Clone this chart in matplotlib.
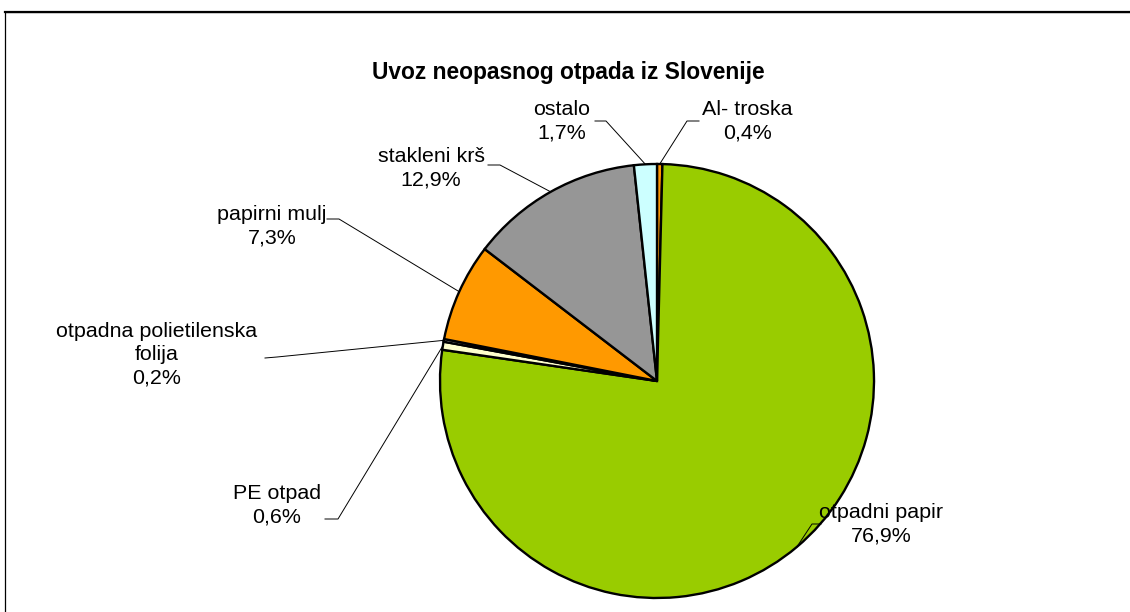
import numpy as np
import matplotlib
matplotlib.use("Agg")
import matplotlib.pyplot as plt
from matplotlib.patches import Rectangle

plt.rcParams['font.family'] = ['Liberation Sans', 'DejaVu Sans']

title = "Uvoz neopasnog otpada iz Slovenije"
categories = ["Al- troska", "otpadni papir", "PE otpad", "otpadna polietilenska\nfolija",
              "papirni mulj", "stakleni krš", "ostalo"]
values = [0.4, 76.9, 0.6, 0.2, 7.3, 12.9, 1.7]
value_labels = ["0,4%", "76,9%", "0,6%", "0,2%", "7,3%", "12,9%", "1,7%"]
colors = ["#FF9900", "#99CC00", "#FFFFCC", "#FFFFFF", "#FF9900", "#969696", "#CCFFFF"]

W, H = 1130, 612
fig = plt.figure(figsize=(W / 100, H / 100), dpi=100)
ax = fig.add_axes([0, 0, 1, 1])

def Y(y):
    return H - y

wedges, _ = ax.pie(values, colors=colors, startangle=90, counterclock=False,
                   center=(657, Y(381)), radius=217,
                   wedgeprops=dict(edgecolor='black', linewidth=1.7), frame=True)
ax.set_xlim(0, W)
ax.set_ylim(0, H)
ax.set_aspect('equal')
ax.axis('off')

# frame
ax.add_patch(Rectangle((4.5, Y(620)), 1140, 620 - 11.5, fill=False, ec='black', lw=0.9, zorder=0))
ax.plot([4.5, W + 5], [Y(11.5), Y(11.5)], color='black', lw=1.6, zorder=1)

ax.text(568, Y(73), title, ha='center', va='center', fontsize=16.4, fontweight='bold')

# label layout: (text center x, y), leader anchor start, knee
layout = [
    ((747, 121), (699, 121), (687, 121)),
    ((881, 524), (821, 524), (812, 524)),
    ((277, 505), (325, 519), (338, 519)),
    ((157, 355), (265, 358), (277, 357)),
    ((272, 226), (327, 219), (339, 219)),
    ((431, 168), (488, 165), (500, 165)),
    ((562, 121), (595, 121), (606, 121)),
]

for w, cat, vl, (tc, a0, a1) in zip(wedges, categories, value_labels, layout):
    mid = np.deg2rad((w.theta1 + w.theta2) / 2)
    ex = w.center[0] + w.r * np.cos(mid)
    ey = w.center[1] + w.r * np.sin(mid)
    ax.text(tc[0], Y(tc[1]), cat + "\n" + vl, ha='center', va='center',
            fontsize=15.4, linespacing=1.3, color='black')
    ax.plot([a0[0], a1[0], ex], [Y(a0[1]), Y(a1[1]), ey], color='black', lw=0.7, zorder=3)

fig.savefig("out.png", dpi=100)
